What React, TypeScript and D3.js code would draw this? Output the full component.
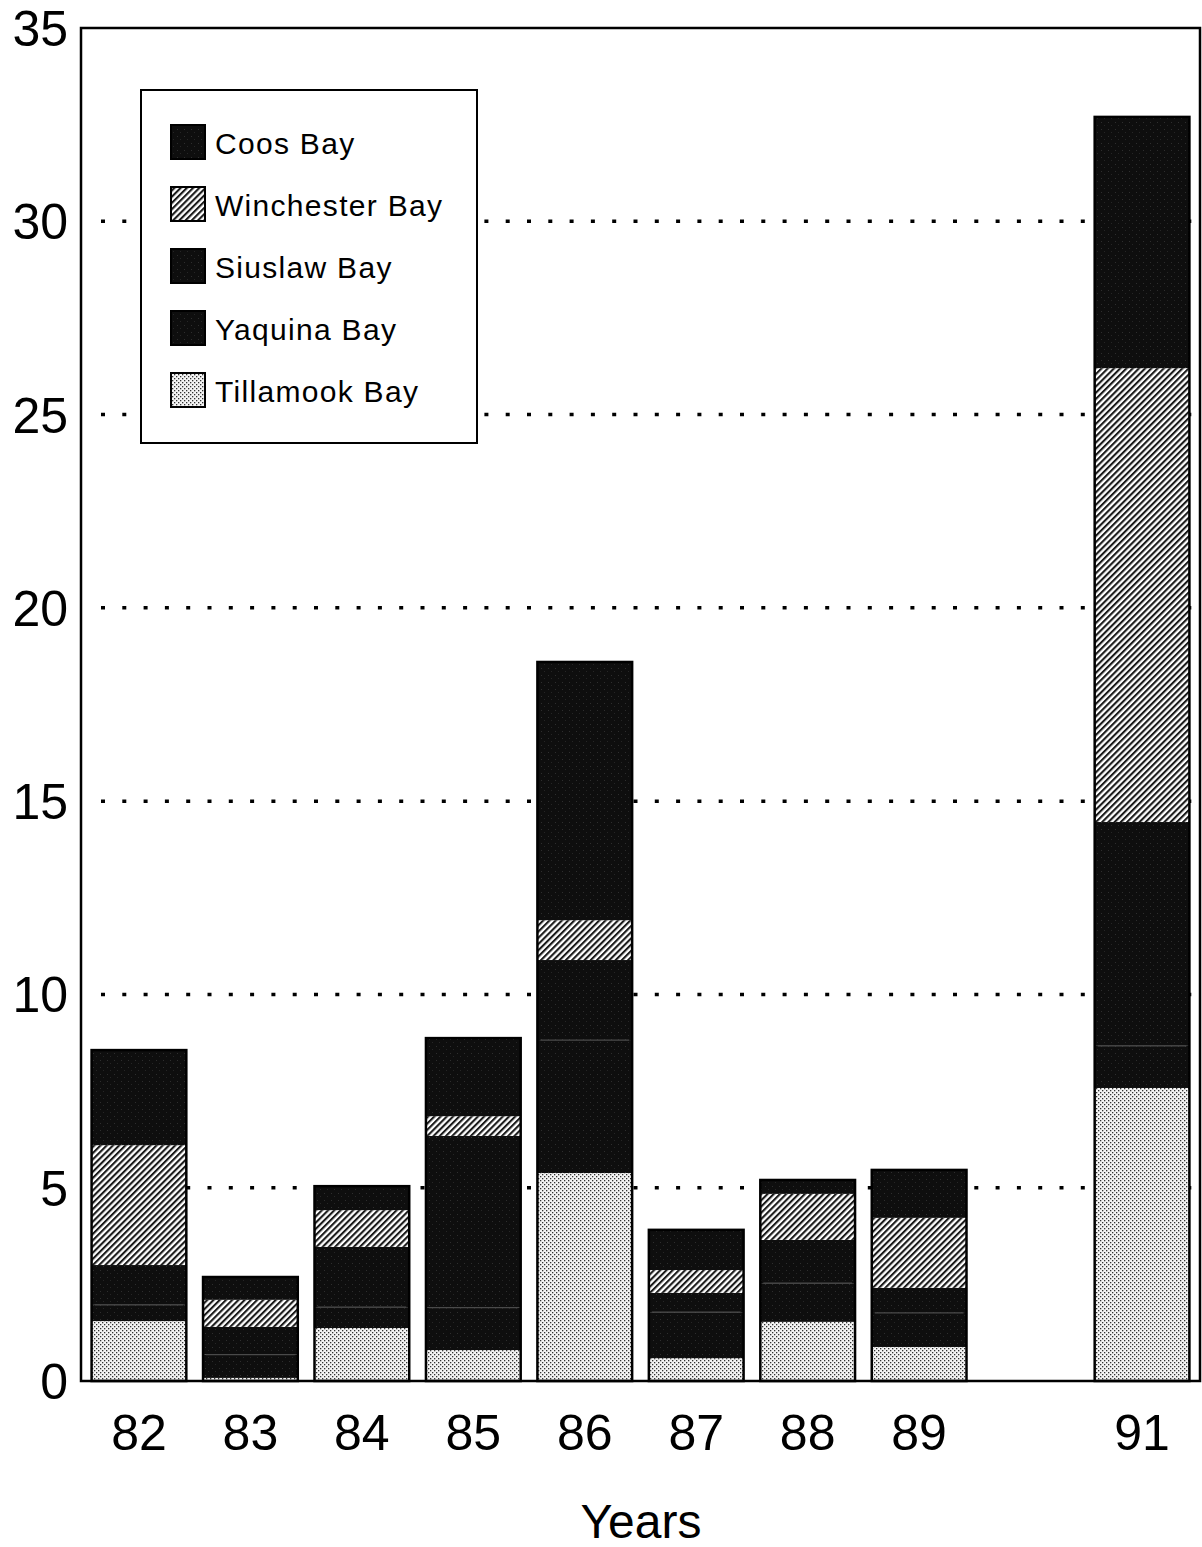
import React from "react";
import * as d3 from "d3";

const slotYears = ["82", "83", "84", "85", "86", "87", "88", "89", "90", "91"];
const years = ["82", "83", "84", "85", "86", "87", "88", "89", "91"];
const tillamook = [1.55, 0.08, 1.37, 0.8, 5.38, 0.59, 1.53, 0.88, 7.58];
const yaquina = [0.42, 0.6, 0.54, 1.1, 3.44, 1.19, 1.0, 0.88, 1.09];
const siuslaw = [1.03, 0.72, 1.56, 4.44, 2.07, 0.5, 1.12, 0.65, 5.79];
const winchester = [3.1, 0.7, 0.95, 0.51, 1.03, 0.59, 1.19, 1.81, 11.74];
const coos = [2.46, 0.59, 0.62, 2.02, 6.68, 1.04, 0.36, 1.24, 6.5];
const yTicks = [0, 5, 10, 15, 20, 25, 30, 35];
const gridTicks = [5, 10, 15, 20, 25, 30];
const legendNames = ["Coos Bay", "Winchester Bay", "Siuslaw Bay", "Yaquina Bay", "Tillamook Bay"];
const legendKeys = ["coos", "winchester", "siuslaw", "yaquina", "tillamook"];
const stackKeys = ["tillamook", "yaquina", "siuslaw", "winchester", "coos"];

const fills: Record<string, string> = {
  tillamook: "url(#stipple)",
  yaquina: "url(#dark)",
  siuslaw: "url(#dark)",
  winchester: "url(#hatch)",
  coos: "url(#dark)",
};

const FONT = "'Liberation Sans', Arial, Helvetica, sans-serif";

export default function App() {
  const W = 1202;
  const H = 1547;
  const left = 81;
  const right = 1200;
  const top = 28;
  const bottom = 1381;

  const rows = years.map((y, i) => ({
    year: y,
    tillamook: tillamook[i],
    yaquina: yaquina[i],
    siuslaw: siuslaw[i],
    winchester: winchester[i],
    coos: coos[i],
  }));
  const series = d3.stack<any>().keys(stackKeys)(rows);

  const x = d3
    .scaleBand<string>()
    .domain(slotYears)
    .range([left, right])
    .paddingInner(0.15)
    .paddingOuter(0.095);
  const y = d3.scaleLinear().domain([0, 35]).range([bottom, top]);

  return (
    <svg
      width={W}
      height={H}
      viewBox={`0 0 ${W} ${H}`}
      style={{ position: "absolute", left: 0, top: 0, background: "#fff" }}
    >
      <defs>
        <pattern id="dark" patternUnits="userSpaceOnUse" width="7" height="7">
          <rect width="7" height="7" fill="#0e0e0e" />
          <rect x="2" y="3" width="1" height="1" fill="#2e2e2e" />
          <rect x="5" y="6" width="1" height="1" fill="#262626" />
        </pattern>
        <pattern
          id="hatch"
          patternUnits="userSpaceOnUse"
          width="4.4"
          height="4.4"
          patternTransform="rotate(45)"
        >
          <rect width="4.4" height="4.4" fill="#fff" />
          <rect x="0" y="0" width="2.1" height="4.4" fill="#1a1a1a" />
        </pattern>
        <pattern id="stipple" patternUnits="userSpaceOnUse" width="4" height="4">
          <rect width="4" height="4" fill="#f4f4f4" />
          <rect x="0" y="0" width="1.3" height="1.3" fill="#333" />
          <rect x="2" y="2" width="1.3" height="1.3" fill="#333" />
        </pattern>
      </defs>

      {/* gridlines */}
      {gridTicks.map((t) => (
        <line
          key={"g" + t}
          x1={left + 20}
          x2={right}
          y1={y(t)}
          y2={y(t)}
          stroke="#000"
          strokeWidth={3.5}
          strokeDasharray="4 17.3"
        />
      ))}

      {/* bars */}
      {series.map((s) =>
        s.map((d: any, i: number) => {
          const xx = x(years[i])!;
          const y0 = y(d[0]);
          const y1 = y(d[1]);
          return (
            <rect
              key={s.key + i}
              x={xx}
              y={y1}
              width={x.bandwidth()}
              height={Math.max(0, y0 - y1)}
              fill={fills[s.key as string]}
            />
          );
        })
      )}
      {/* faint boundary between Yaquina and Siuslaw */}
      {series[1].map((d: any, i: number) => (
        <line
          key={"b" + i}
          x1={x(years[i])! + 3}
          x2={x(years[i])! + x.bandwidth() - 3}
          y1={y(d[1])}
          y2={y(d[1])}
          stroke="#4a4a4a"
          strokeWidth={1.2}
        />
      ))}
      {/* bar outlines */}
      {rows.map((r, i) => {
        const total = series[series.length - 1][i][1];
        return (
          <rect
            key={"o" + i}
            x={x(r.year)!}
            y={y(total)}
            width={x.bandwidth()}
            height={y(0) - y(total)}
            fill="none"
            stroke="#000"
            strokeWidth={2.5}
          />
        );
      })}

      {/* frame */}
      <rect
        x={left}
        y={top}
        width={right - left}
        height={bottom - top}
        fill="none"
        stroke="#000"
        strokeWidth={2.5}
      />

      {/* y tick labels */}
      {yTicks.map((t) => (
        <text
          key={"y" + t}
          x={68}
          y={y(t)}
          dy="0.36em"
          textAnchor="end"
          fontFamily={FONT}
          fontSize={50}
          fill="#000"
        >
          {t}
        </text>
      ))}
      {/* x tick labels */}
      {years.map((yr) => (
        <text
          key={"x" + yr}
          x={x(yr)! + x.bandwidth() / 2}
          y={1450}
          textAnchor="middle"
          fontFamily={FONT}
          fontSize={50}
          fill="#000"
        >
          {yr}
        </text>
      ))}
      <text
        x={641}
        y={1538}
        textAnchor="middle"
        fontFamily={FONT}
        fontSize={48}
        fill="#000"
      >
        Years
      </text>

      {/* legend */}
      <rect x={141} y={90} width={336} height={353} fill="#fff" stroke="#000" strokeWidth={2} />
      {legendKeys.map((k, i) => {
        const cy = 142 + i * 62;
        return (
          <g key={"l" + k}>
            <rect
              x={171}
              y={cy - 17}
              width={34}
              height={34}
              fill={fills[k]}
              stroke="#000"
              strokeWidth={2}
            />
            <text
              x={215}
              y={cy + 12}
              fontFamily={FONT}
              fontSize={30}
              letterSpacing={1.3}
              fill="#000"
            >
              {legendNames[i]}
            </text>
          </g>
        );
      })}
    </svg>
  );
}
